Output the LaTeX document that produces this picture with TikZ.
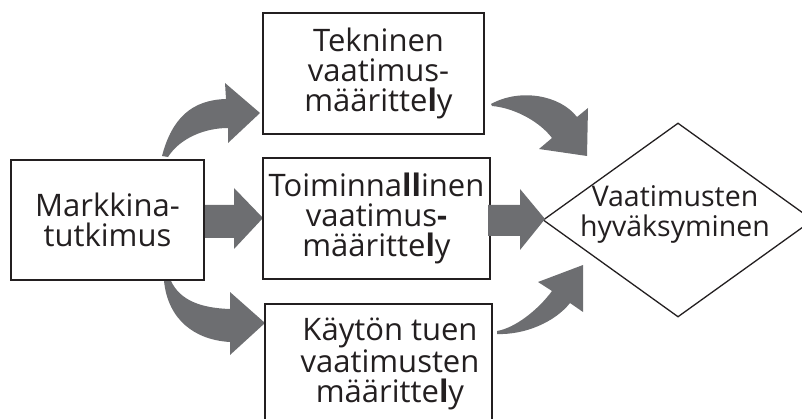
\documentclass[tikz,border=0pt]{standalone}
\usepackage{fontspec}
\setmainfont{Open Sans}
\usetikzlibrary{shapes.geometric}
\definecolor{ink}{HTML}{231F20}
\definecolor{arrowgray}{HTML}{6D6E71}
\tikzset{
  boxthin/.style={draw=ink, line width=1.3pt, fill=white, rectangle, inner sep=0pt},
  boxthick/.style={draw=ink, line width=2.6pt, fill=white, rectangle, inner sep=0pt},
  boxmid/.style={draw=ink, line width=2.1pt, fill=white, rectangle, inner sep=0pt},
  decision/.style={draw=ink, line width=1.3pt, fill=white, diamond, inner sep=0pt},
  caption/.style={text=ink, align=center, inner sep=0pt,
    font=\fontsize{31}{30}\selectfont},
  smallcaption/.style={caption, font=\fontsize{28.5}{30}\selectfont},
  blockarrow/.style={fill=arrowgray, draw=none}
}
\newcommand{\bl}{\textbf{l}}
\begin{document}
\begin{tikzpicture}[x=1pt, y=-1pt]
  \useasboundingbox (0,0) rectangle (802,419);
  \clip (0,0) rectangle (802,419);

  % curved block arrows and the first straight one
  \fill[blockarrow] (162,156) .. controls (172,118) and (192,100) .. (226,99)
     -- (225,83) -- (260,113) -- (228,143) -- (228,128)
     .. controls (205,128) and (180,138) .. (168,157) -- cycle;
  \fill[blockarrow] (491,104) .. controls (520,88) and (560,95) .. (577,117)
     -- (588,108) -- (587,156) -- (539,149) -- (552,138)
     .. controls (540,122) and (515,108) .. (492,106) -- cycle;
  \fill[blockarrow] (164,281) .. controls (168,320) and (195,340) .. (230,342)
     -- (230,355) -- (265,323) -- (230,292) -- (230,309)
     .. controls (200,308) and (180,300) .. (171,281) -- cycle;
  \fill[blockarrow] (497,331) .. controls (515,328) and (538,310) .. (552,291)
     -- (538,282) -- (583,265) -- (583,312) -- (570,303)
     .. controls (555,322) and (525,335) .. (497,334) -- cycle;
  \fill[blockarrow] (200,205) -- (234,205) -- (234,188) -- (263,218)
     -- (234,249) -- (234,238) -- (200,238) -- cycle;

  % boxes and the decision diamond
  \node[boxthin, minimum width=193pt, minimum height=120pt] (mk) at (107.5,220) {};
  \node[boxthin, minimum width=221pt, minimum height=121pt] (tek) at (373.5,73.5) {};
  \node[boxthick, minimum width=227pt, minimum height=121pt] (fn) at (376.5,218.5) {};
  \node[boxmid, minimum width=227pt, minimum height=136pt] (kt) at (378.5,372) {};
  \node[decision, minimum width=270pt, minimum height=194pt] (ok) at (678,220) {};

  % straight arrow into the diamond, drawn over its left corner
  \fill[blockarrow] (488,205) -- (520,205) -- (520,189) -- (545,219)
     -- (520,250) -- (520,236) -- (488,236) -- cycle;

  % captions
  \node[caption] (mkt) at (mk) {Markkina-\\tutkimus};
  \node[caption] (tekt) at ([xshift=5pt]tek.center) {Tekninen\\vaatimus-\\määritte\bl y};
  \node[caption] (fnt) at (fn) {Toiminna\bl\bl inen\\vaatimus\textbf{-}\\määritte\bl y};
  \node[caption] (ktt) at (390,364) {Käytön tuen\\vaatimusten\\määritte\bl y};
  \node[smallcaption] (okt) at (675,214) {Vaatimusten\\hyväksyminen};
\end{tikzpicture}
\end{document}
